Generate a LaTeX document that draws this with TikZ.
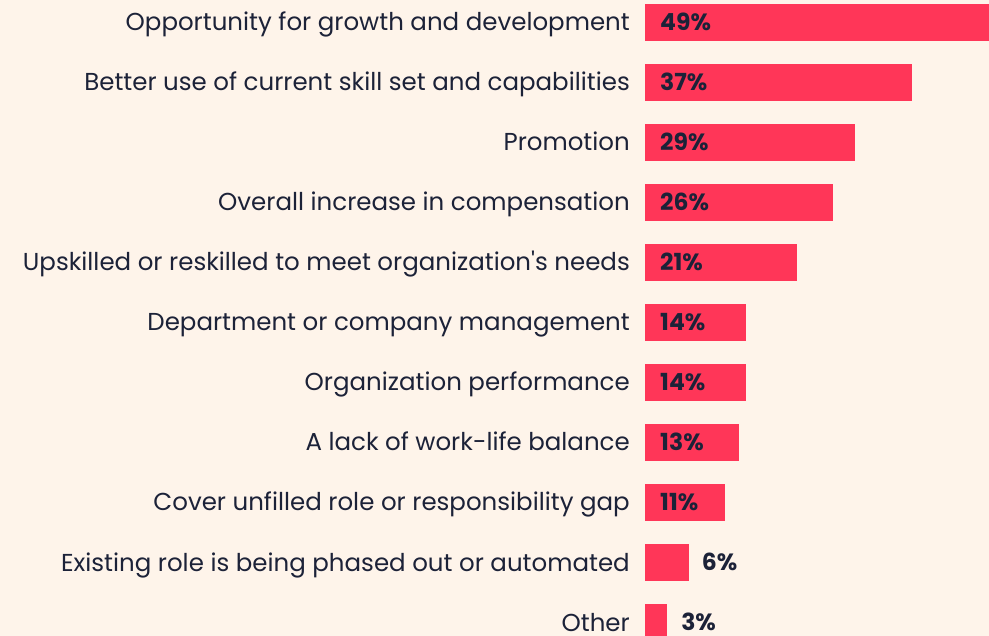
\documentclass[tikz,border=0pt]{standalone}
\usepackage{fontspec}
\setmainfont{Poppins}
\usetikzlibrary{positioning}
\definecolor{bgC}{HTML}{FEF4EA}
\definecolor{barC}{HTML}{FF3658}
\definecolor{txtC}{HTML}{1C2238}
\tikzstyle{rbar}=[draw=none, fill=barC, shape=rectangle, anchor=west, minimum height=37pt, inner sep=0pt]
\tikzstyle{cat}=[anchor=east, inner sep=0pt, text height=17pt, text depth=0pt, text=txtC, font=\fontsize{24.5}{28}\selectfont]
\tikzstyle{val}=[anchor=west, inner sep=0pt, text height=16.5pt, text depth=0pt, text=txtC, font=\fontsize{23.5}{28}\selectfont\bfseries]
\def\rbar#1{\node[style=rbar, minimum width=#1*7.22pt]}
\def\cat{\node[style=cat]}
\def\val{\node[style=val]}

\begin{document}
\begin{tikzpicture}[x=1pt, y=-1pt]
      \fill[bgC] (0,0) rectangle (989,636);
      \useasboundingbox (0,0) rectangle (989,636);
      % bars
      \rbar{49} (bar0)  at (645,22.5)  {};
      \rbar{37} (bar1)  at (645,82.5)  {};
      \rbar{29} (bar2)  at (645,142.5) {};
      \rbar{26} (bar3)  at (645,202.5) {};
      \rbar{21} (bar4)  at (645,262.5) {};
      \rbar{14} (bar5)  at (645,322.5) {};
      \rbar{14} (bar6)  at (645,382.5) {};
      \rbar{13} (bar7)  at (645,442.5) {};
      \rbar{11} (bar8)  at (645,502.5) {};
      \rbar{6}  (bar9)  at (645,562.5) {};
      \rbar{3}  (bar10) at (645,622.5) {};
      % categories
      \cat (cat0)  [left=15pt of bar0.west]  {Opportunity for growth and development};
      \cat (cat1)  [left=15pt of bar1.west]  {Better use of current skill set and capabilities};
      \cat (cat2)  [left=15pt of bar2.west]  {Promotion};
      \cat (cat3)  [left=15pt of bar3.west]  {Overall increase in compensation};
      \cat (cat4)  [left=15pt of bar4.west]  {Upskilled or reskilled to meet organization\textquotesingle s needs};
      \cat (cat5)  [left=15pt of bar5.west]  {Department or company management};
      \cat (cat6)  [left=15pt of bar6.west]  {Organization performance};
      \cat (cat7)  [left=15pt of bar7.west]  {A lack of work-life balance};
      \cat (cat8)  [left=15pt of bar8.west]  {Cover unfilled role or responsibility gap};
      \cat (cat9)  [left=15pt of bar9.west]  {Existing role is being phased out or automated};
      \cat (cat10) [left=15pt of bar10.west] {Other};
      % values
      \val (val0)  [right=15pt of bar0.west]  {49\%};
      \val (val1)  [right=15pt of bar1.west]  {37\%};
      \val (val2)  [right=15pt of bar2.west]  {29\%};
      \val (val3)  [right=15pt of bar3.west]  {26\%};
      \val (val4)  [right=15pt of bar4.west]  {21\%};
      \val (val5)  [right=15pt of bar5.west]  {14\%};
      \val (val6)  [right=15pt of bar6.west]  {14\%};
      \val (val7)  [right=15pt of bar7.west]  {13\%};
      \val (val8)  [right=15pt of bar8.west]  {11\%};
      \val (val9)  [right=13pt of bar9.east]  {6\%};
      \val (val10) [right=14pt of bar10.east] {3\%};
\end{tikzpicture}
\end{document}
